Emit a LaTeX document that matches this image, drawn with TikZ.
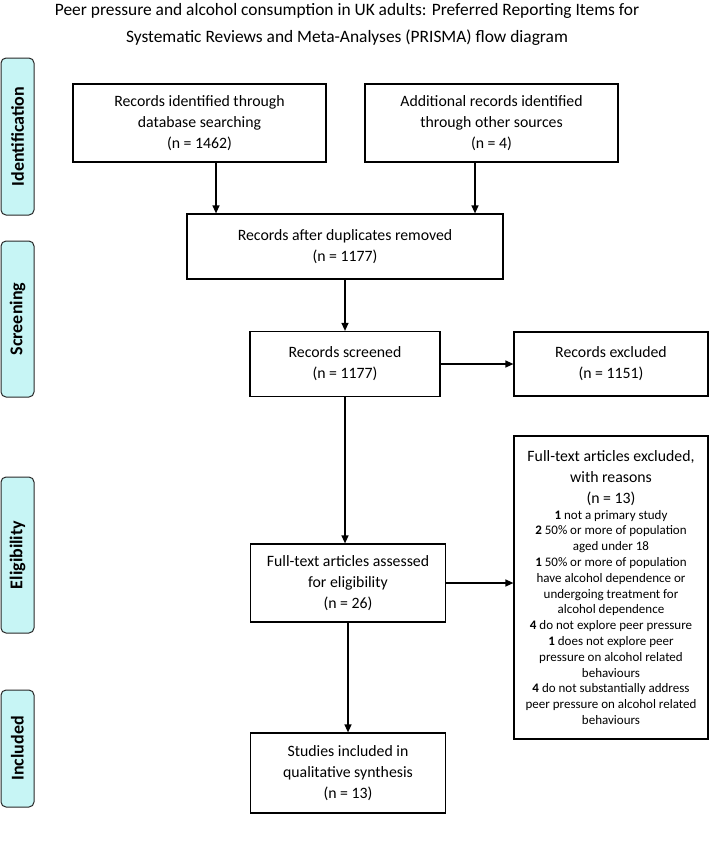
\documentclass[tikz,border=0pt]{standalone}
\usepackage{fontspec}
\setmainfont{Carlito}
\usetikzlibrary{arrows.meta}
\definecolor{sidefill}{RGB}{199,245,245}
\definecolor{sideline}{RGB}{40,40,40}
\begin{document}
\begin{tikzpicture}[x=1pt,y=-1pt,
  box/.style={draw=black, line width=1.2pt, align=center, inner sep=0pt,
    font=\fontsize{15.8}{21}\selectfont},
  side/.style={draw=sideline, fill=sidefill, line width=1pt, rounded corners=5pt,
    rotate=90, inner sep=0pt, minimum height=33pt,
    font=\fontsize{18}{20}\selectfont\bfseries},
  arr/.style={line width=1.3pt, -{Triangle[length=8pt,width=7pt]}}]
\useasboundingbox (0,0) rectangle (710,847);
% title
\node[align=center, inner sep=0pt, font=\fontsize{17.4}{27}\selectfont] (title) at (347,24)
  {Peer pressure and alcohol consumption in UK adults: Preferred Reporting Items for\\
   Systematic Reviews and Meta-Analyses (PRISMA) flow diagram};
% side labels
\node[side, minimum width=157pt] (s1) at (17.5,136.5) {Identification};
\node[side, minimum width=156pt] (s2) at (17.5,319) {Screening};
\node[side, minimum width=156pt] (s3) at (17.5,555) {Eligibility};
\node[side, minimum width=117pt] (s4) at (17.5,748.5) {Included};
% boxes
\node[box, minimum width=253pt, minimum height=78pt] (b1) at (199.5,123)
  {Records identified through\\database searching\\(n = 1462)};
\node[box, minimum width=253pt, minimum height=78pt] (b2) at (491.5,123)
  {Additional records identified\\through other sources\\(n = 4)};
\node[box, minimum width=316pt, minimum height=65pt] (b3) at (345,246.5)
  {Records after duplicates removed\\(n = 1177)};
\node[box, minimum width=190pt, minimum height=65pt] (b4) at (345,364)
  {Records screened\\(n = 1177)};
\node[box, minimum width=194pt, minimum height=64pt] (b5) at (611,364)
  {Records excluded\\(n = 1151)};
\node[box, minimum width=195pt, minimum height=78pt] (b7) at (348,583)
  {Full-text articles assessed\\for eligibility\\(n = 26)};
\node[box, minimum width=195pt, minimum height=80pt] (b8) at (348,773)
  {Studies included in\\qualitative synthesis\\(n = 13)};
\node[box, minimum width=194pt, minimum height=303pt] (b6) at (611,587.5)
  {\parbox{190pt}{\centering
   Full-text articles excluded,\\with reasons\\(n = 13)\par
   \fontsize{13}{15.8}\selectfont
   \textbf{1} not a primary study\\
   \textbf{2} 50\% or more of population\\
   aged under 18\\
   \textbf{1} 50\% or more of population\\
   have alcohol dependence or\\
   undergoing treatment for\\
   alcohol dependence\\
   \textbf{4} do not explore peer pressure\\
   \textbf{1} does not explore peer\\
   pressure on alcohol related\\
   behaviours\\
   \textbf{4} do not substantially address\\
   peer pressure on alcohol related\\
   behaviours\par}};
% connectors
\draw[arr] ([xshift=16.5pt]b1.south) -- ([xshift=16.5pt]b1.south |- b3.north);
\draw[arr] ([xshift=-16.5pt]b2.south) -- ([xshift=-16.5pt]b2.south |- b3.north);
\draw[arr] (b3.south) -- (b3.south |- b4.north);
\draw[arr] (b4.east) -- (b4.east -| b5.west);
\draw[arr] (b4.south) -- (b4.south |- b7.north);
\draw[arr] (b7.east) -- (b7.east -| b6.west);
\draw[arr] (b7.south) -- (b7.south |- b8.north);
\end{tikzpicture}
\end{document}
